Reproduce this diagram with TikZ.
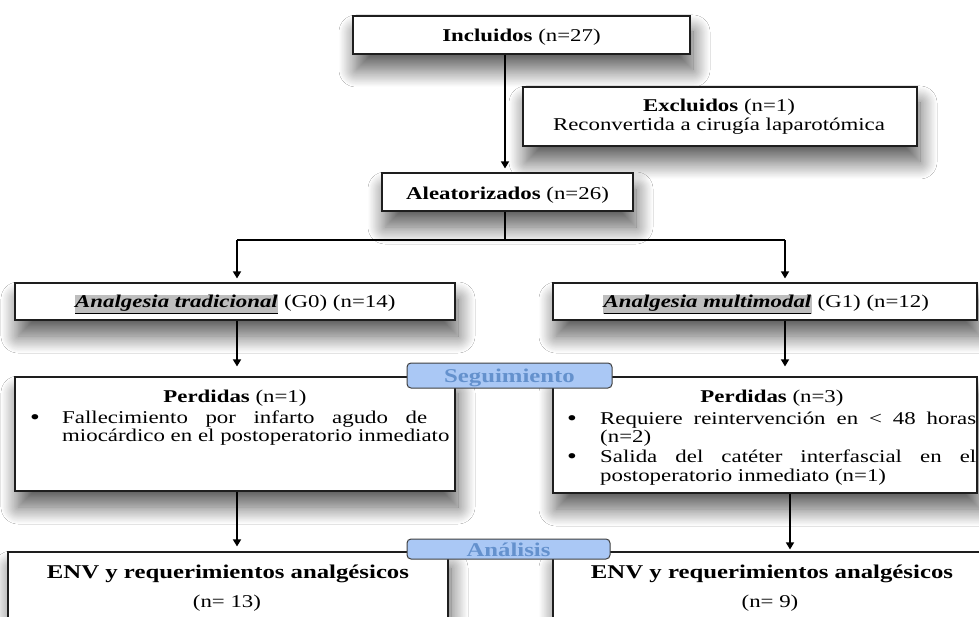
\documentclass[tikz,border=0pt]{standalone}
\usepackage{fontspec}
\setmainfont{Liberation Serif}[FakeStretch=1.27]
\usetikzlibrary{arrows.meta,shadows.blur}

\definecolor{tabfill}{RGB}{170,200,245}
\definecolor{tabtext}{RGB}{100,145,205}
\definecolor{hlgray}{RGB}{190,190,190}
\definecolor{edge}{RGB}{30,30,30}

% highlighted, underlined group name
\newcommand\grouplabel[1]{{\setlength{\fboxsep}{0.6pt}\colorbox{hlgray}{\underline{\textbf{\textit{#1}}}}}}
% list bullet
\newcommand\listdot{{\fontsize{22}{22}\selectfont\textbullet}}

\begin{document}
\begin{tikzpicture}[x=1pt,y=-1pt,
  box/.style={draw=edge, line width=1.1pt, fill=white, inner sep=0pt,
    blur shadow={shadow xshift=3pt, shadow yshift=-16pt,
                 shadow blur radius=17pt, shadow blur steps=24,
                 shadow opacity=65}},
  tabbox/.style={draw=edge!85, line width=1pt, rounded corners=4pt,
    fill=tabfill, inner sep=0pt},
  txt/.style={inner sep=0pt, anchor=base, font=\fontsize{18}{21}\selectfont},
  ltxt/.style={txt, anchor=base west},
  bigtxt/.style={inner sep=0pt, anchor=base, font=\fontsize{19.5}{23}\selectfont\bfseries},
  tabtxt/.style={inner sep=0pt, anchor=base, text=tabtext,
    font=\fontsize{19.5}{22}\selectfont\bfseries},
  link/.style={line width=1.4pt, draw=black},
  arr/.style={link, -{Triangle[length=7pt,width=8pt]}}
]
\useasboundingbox (0,0) rectangle (979,617);
\clip (0,0) rectangle (979,617);
\fill[white] (0,0) rectangle (979,617);

% boxes
\node[box, minimum width=337pt, minimum height=38pt] (inc) at (521.5,35) {};
\node[box, minimum width=394pt, minimum height=59pt] (exc) at (720,116.5) {};
\node[box, minimum width=251pt, minimum height=38pt] (ale) at (507.5,192) {};
\node[box, minimum width=440pt, minimum height=37pt] (g0) at (235,301.5) {};
\node[box, minimum width=424pt, minimum height=37pt] (g1) at (765,301.5) {};
\node[box, minimum width=440pt, minimum height=114pt] (p0) at (235,434) {};
\node[box, minimum width=424pt, minimum height=116pt] (p1) at (765,435) {};
\node[box, minimum width=440pt, minimum height=108pt] (e0) at (228,606) {};
\node[box, minimum width=447pt, minimum height=108pt] (e1) at (776.5,606) {};

% phase tabs
\node[tabbox, minimum width=205pt, minimum height=25pt] (seg) at (509.5,375.5) {};
\node[tabbox, minimum width=203pt, minimum height=20pt] (ana) at (508.5,549) {};
\node[tabtxt] (tseg) at (509.5,382) {Seguimiento};
\node[tabtxt] (tana) at (508.5,556) {Análisis};

% texts
\node[txt] (tinc) at (521.5,42) {\textbf{Incluidos} (n=27)};
\node[txt] (texc1) at (719,112) {\textbf{Excluidos} (n=1)};
\node[txt] (texc2) at (719,131) {Reconvertida a cirugía laparotómica};
\node[txt] (tale) at (507.5,200) {\textbf{Aleatorizados} (n=26)};
\node[txt] (tg0) at (235,308) {\grouplabel{Analgesia tradicional} (G0) (n=14)};
\node[txt] (tg1) at (766,308) {\grouplabel{Analgesia multimodal} (G1) (n=12)};

\node[txt] (tp0) at (235,402) {\textbf{Perdidas} (n=1)};
\node[txt] (b01) at (35,424) {\listdot};
\node[ltxt] (l01) at (62,423) {\makebox[365pt][s]{Fallecimiento por infarto agudo de}};
\node[ltxt] (l02) at (62,441) {miocárdico en el postoperatorio inmediato};

\node[txt] (tp1) at (772,402) {\textbf{Perdidas} (n=3)};
\node[txt] (b11) at (572,425) {\listdot};
\node[ltxt] (l11) at (600,424) {\makebox[376pt][s]{Requiere reintervención en < 48 horas}};
\node[ltxt] (l12) at (600,442) {(n=2)};
\node[txt] (b12) at (572,463) {\listdot};
\node[ltxt] (l13) at (600,462) {\makebox[376pt][s]{Salida del catéter interfascial en el}};
\node[ltxt] (l14) at (600,481) {postoperatorio inmediato (n=1)};

\node[bigtxt] (te0) at (228,578) {ENV y requerimientos analgésicos};
\node[txt] (ne0) at (227,607) {(n= 13)};
\node[bigtxt] (te1) at (772,578) {ENV y requerimientos analgésicos};
\node[txt] (ne1) at (770,607) {(n= 9)};

% connectors
\coordinate (split) at (505,240);
\coordinate (lft) at (237,240);
\coordinate (rgt) at (785,240);
\coordinate (rgtlow) at (790,500);

\draw[arr, shorten >=4pt] (inc.south -| split) -- (ale.north -| split);
\draw[link] (ale.south -| split) -- (split);
\draw[link] (lft) -- (rgt);
\draw[arr, shorten >=4pt] (lft) -- (lft |- g0.north);
\draw[arr, shorten >=4pt] (rgt) -- (rgt |- g1.north);
\draw[arr, shorten >=10pt] (g0.south -| lft) -- (p0.north -| lft);
\draw[arr, shorten >=10pt] (g1.south -| rgt) -- (p1.north -| rgt);
\draw[arr, shorten >=5pt] (p0.south -| lft) -- (e0.north -| lft);
\draw[arr, shorten >=2pt] (p1.south -| rgtlow) -- (e1.north -| rgtlow);
\end{tikzpicture}
\end{document}
